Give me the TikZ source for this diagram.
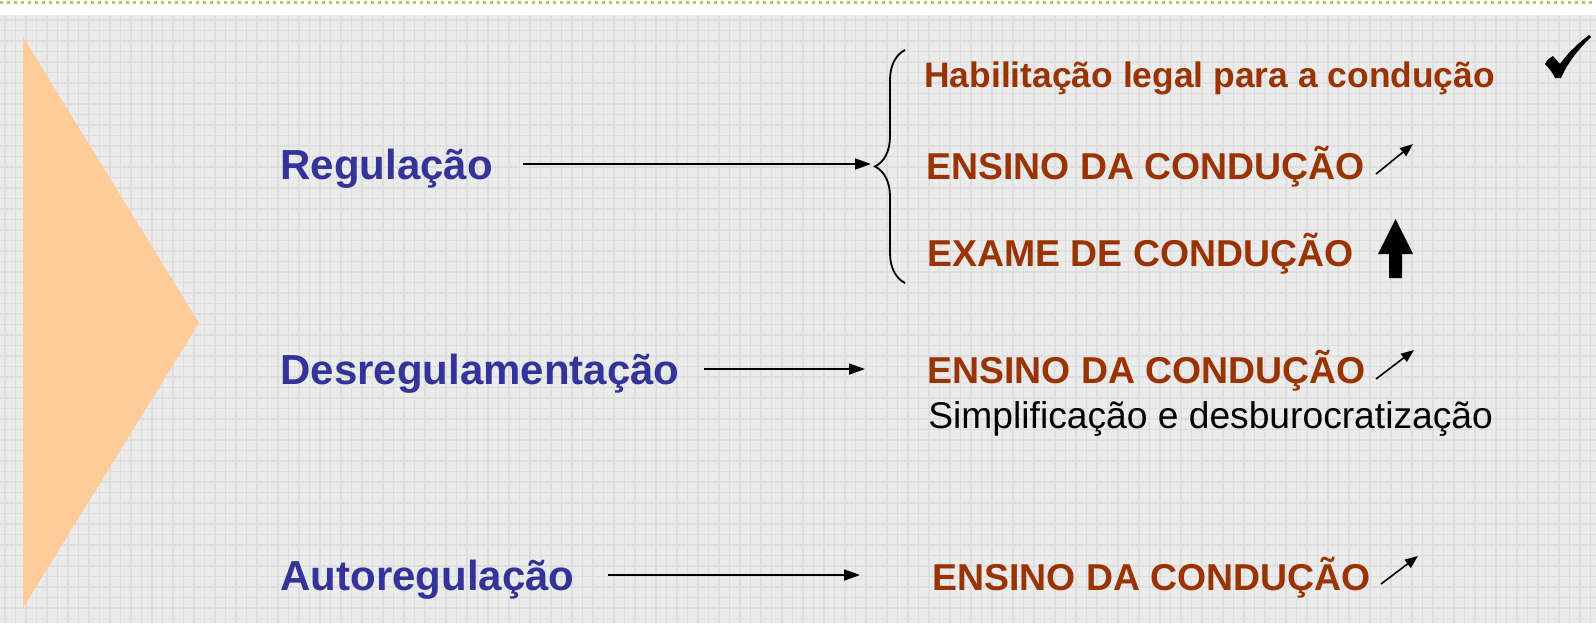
\documentclass[tikz,border=0pt]{standalone}
\usepackage{fontspec}
\setmainfont{Liberation Sans}
\usepackage{tikz}
\usepackage{xcolor}
\usetikzlibrary{arrows.meta, decorations.pathreplacing, positioning}
\definecolor{RegBlue}{HTML}{333399}
\definecolor{RegBrown}{HTML}{993300}
\definecolor{Peach}{HTML}{FFCC99}
\definecolor{PaperGray}{HTML}{EBEBEB}
\definecolor{GridGray}{HTML}{DEDEDE}
\definecolor{TopGreen}{HTML}{A8CF6E}
\tikzset{
  level/.style={anchor=base west,inner sep=0pt,text height=15pt,text depth=0pt,
    text=RegBlue,font=\fontsize{21pt}{25pt}\selectfont\bfseries},
  effect/.style={anchor=base west,inner sep=0pt,text height=13.4pt,text depth=0pt,
    text=RegBrown,font=\fontsize{18.7pt}{22pt}\selectfont\bfseries},
  note/.style={anchor=base west,inner sep=0pt,font=\fontsize{18.6pt}{22pt}\selectfont},
  link/.style={-{Triangle[length=8pt,width=5.5pt]},line width=0.9pt},
  trend/.style={-{Triangle[length=6.5pt,width=5pt]},line width=0.8pt},
  gridline/.style={GridGray,line width=0.6pt},
}

\begin{document}
\begin{tikzpicture}[x=0.5pt,y=-0.5pt]
    \useasboundingbox (0,0) rectangle (1596,623);
    % paper and grid
    \fill[white] (0,0) rectangle (1596,623);
    \draw[TopGreen,line width=1.5pt,dotted] (0,2) -- (1596,2);
    \fill[PaperGray] (0,15) rectangle (1596,623);
    \foreach \x in {5,15.5,...,1596}{
      \draw[gridline] (\x,15) -- (\x,623);
    }
    \foreach \y in {20,30.5,...,623}{
      \draw[gridline] (0,\y) -- (1596,\y);
    }

    \fill[Peach] (23,37) -- (199,323) -- (23,608) -- cycle;

    % levels
    \node[level] (reg) at (280,179) {Regulação};
    \node[level] (des) at (280,384) {Desregulamentação};
    \node[level] (aut) at (280,590) {Autoregulação};

    % effects
    \node[effect,font=\fontsize{17.7pt}{22pt}\selectfont\bfseries] (hab) at (924,87)
      {Habilitação legal para a condução};
    \node[effect] (ens1) at (926,179) {ENSINO DA CONDUÇÃO};
    \node[effect] (exa) at (927,266) {EXAME DE CONDUÇÃO};
    \node[effect] (ens2) at (927,383) {ENSINO DA CONDUÇÃO};
    \node[note] (simp) at (928,428) {Simplificação e desburocratização};
    \node[effect] (ens3) at (932,590) {ENSINO DA CONDUÇÃO};

    % brace
    \coordinate (tip) at (875,166);
    \draw[line width=0.9pt,decorate,decoration={brace,amplitude=15pt}]
      (905,283) -- (905,50);

    \draw[link,shorten <=15pt,shorten >=2pt] (reg.east) -- (reg.east -| tip);
    \draw[link,shorten <=12pt,shorten >=31pt] (des.east) -- (des.east -| ens2.west);
    \draw[link,shorten <=16.5pt,shorten >=36pt] (aut.east) -- (aut.east -| ens3.west);

    % trends
    \fill (1545,64) .. controls (1548,59) .. (1553,56) -- (1560,64)
      .. controls (1570,50) and (1580,42) .. (1589,35) -- (1591,37)
      .. controls (1578,50) and (1568,62) .. (1561,78) -- (1555,78)
      .. controls (1552,72) .. (1545,64) -- cycle;
    \draw[trend] (1376,174) -- (1413,144);
    \fill (1389,278) -- (1389,254) -- (1378,254) -- (1395.5,219)
      -- (1413,254) -- (1402,254) -- (1402,278) -- cycle;
    \draw[trend] (1376,379) -- (1414,350);
    \draw[trend] (1381,584) -- (1418,556);
  \end{tikzpicture}
\end{document}
